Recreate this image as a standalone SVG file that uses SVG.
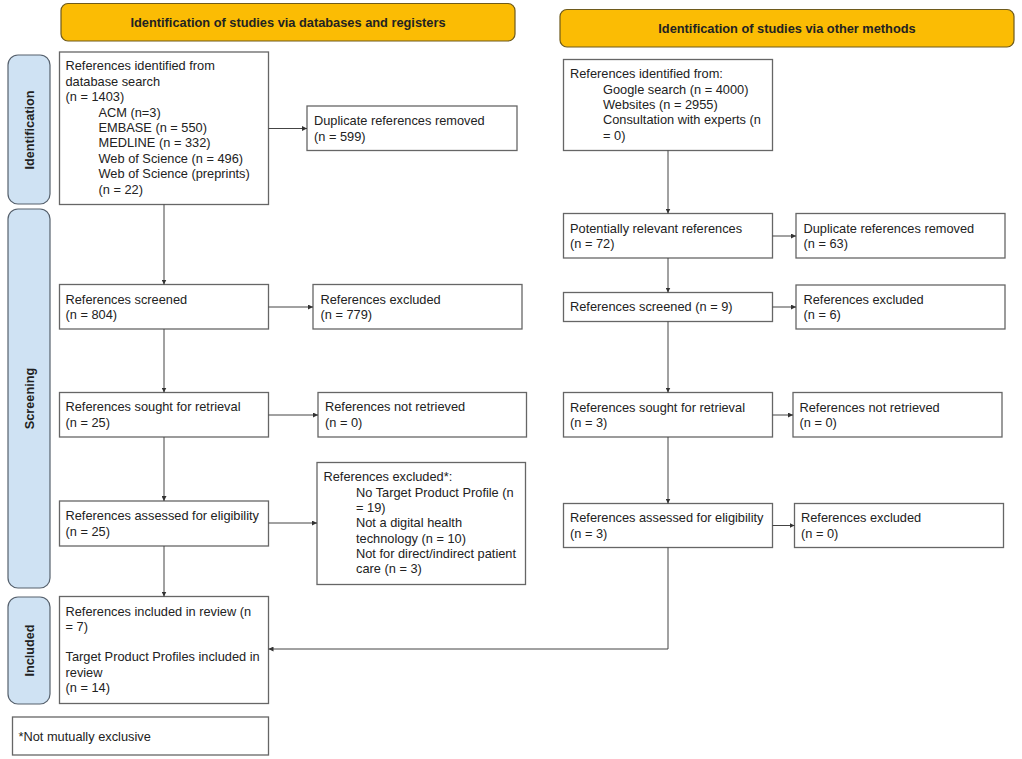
<svg xmlns="http://www.w3.org/2000/svg" width="1022" height="759" viewBox="0 0 1022 759">
<style>
text{font-family:"Liberation Sans",Arial,sans-serif;font-size:12.8px;fill:#222}
.title{font-weight:bold;font-size:12.8px;text-anchor:middle}
.side{font-weight:bold;font-size:12.7px;text-anchor:middle}
.banner{fill:#fbbc04;stroke:#6e5a1c;stroke-width:1.2}
.phase{fill:#cfe2f3;stroke:#56616d;stroke-width:1.2}
.box{fill:#fff;stroke:#666;stroke-width:1.3}
.conn{fill:none;stroke:#444;stroke-width:1}
</style>
<defs>
<marker id="ah" viewBox="0 0 6 6" refX="6" refY="3" markerWidth="5" markerHeight="5" markerUnits="userSpaceOnUse" orient="auto">
<path d="M0,0 L6,3 L0,6 z" fill="#333"/>
</marker>
</defs>
<rect width="1022" height="759" fill="#fff"/>

<g id="banner-left"><rect class="banner" x="61" y="3.5" width="454" height="37.5" rx="7"/><text class="title" x="288" y="27">Identification of studies via databases and registers</text></g>
<g id="banner-right"><rect class="banner" x="560" y="9.5" width="454" height="37.5" rx="7"/><text class="title" x="787" y="32.7">Identification of studies via other methods</text></g>

<g id="phase-identification"><rect class="phase" x="8" y="55" width="42" height="149" rx="10"/><text class="side" transform="translate(34,130) rotate(-90)">Identification</text></g>
<g id="phase-screening"><rect class="phase" x="8" y="209" width="42" height="379" rx="10"/><text class="side" transform="translate(34,398.5) rotate(-90)">Screening</text></g>
<g id="phase-included"><rect class="phase" x="8" y="597" width="42" height="107" rx="10"/><text class="side" transform="translate(34,650.5) rotate(-90)">Included</text></g>

<g id="db-identified"><rect class="box" x="59.5" y="52" width="209" height="152.5"/>
<text x="65.5" y="70">References identified from</text>
<text x="65.5" y="85.5">database search</text>
<text x="65.5" y="101">(n = 1403)</text>
<text x="98.5" y="116.5">ACM (n=3)</text>
<text x="98.5" y="132">EMBASE (n = 550)</text>
<text x="98.5" y="147">MEDLINE (n = 332)</text>
<text x="98.5" y="162.5">Web of Science (n = 496)</text>
<text x="98.5" y="178">Web of Science (preprints)</text>
<text x="98.5" y="193.5">(n = 22)</text></g>

<g id="db-duplicates"><rect class="box" x="307" y="106" width="210" height="44.5"/>
<text x="314" y="124.5">Duplicate references removed</text>
<text x="314" y="141">(n = 599)</text></g>

<g id="db-screened"><rect class="box" x="59.5" y="284.5" width="209" height="44.5"/>
<text x="65.5" y="303.5">References screened</text>
<text x="65.5" y="319">(n = 804)</text></g>

<g id="db-excluded"><rect class="box" x="313" y="284.5" width="209" height="44.5"/>
<text x="320.5" y="303.5">References excluded</text>
<text x="320.5" y="319">(n = 779)</text></g>

<g id="db-sought"><rect class="box" x="59.5" y="392.5" width="209" height="44.5"/>
<text x="65.5" y="411">References sought for retrieval</text>
<text x="65.5" y="426.8">(n = 25)</text></g>

<g id="db-not-retrieved"><rect class="box" x="318" y="392.5" width="208.5" height="44.5"/>
<text x="325" y="411">References not retrieved</text>
<text x="325" y="426.8">(n = 0)</text></g>

<g id="db-assessed"><rect class="box" x="59.5" y="501" width="209" height="45"/>
<text x="65.5" y="520">References assessed for eligibility</text>
<text x="65.5" y="535.5">(n = 25)</text></g>

<g id="db-excluded-elig"><rect class="box" x="317" y="462.5" width="208.5" height="122"/>
<text x="323.5" y="481">References excluded*:</text>
<text x="356" y="496.5">No Target Product Profile (n</text>
<text x="356" y="512">= 19)</text>
<text x="356" y="527">Not a digital health</text>
<text x="356" y="542.5">technology (n = 10)</text>
<text x="356" y="557.5">Not for direct/indirect patient</text>
<text x="356" y="573">care (n = 3)</text></g>

<g id="included"><rect class="box" x="59.5" y="596.5" width="209" height="107"/>
<text x="65.5" y="615.5">References included in review (n</text>
<text x="65.5" y="630.5">= 7)</text>
<text x="65.5" y="661">Target Product Profiles included in</text>
<text x="65.5" y="676.5">review</text>
<text x="65.5" y="692">(n = 14)</text></g>

<g id="footnote"><rect class="box" x="12.5" y="717" width="256" height="38"/>
<text x="18.5" y="741">*Not mutually exclusive</text></g>

<g id="other-identified"><rect class="box" x="563.5" y="59.5" width="209" height="91"/>
<text x="570" y="77.8">References identified from:</text>
<text x="603" y="93.5">Google search (n = 4000)</text>
<text x="603" y="109">Websites (n = 2955)</text>
<text x="603" y="124">Consultation with experts (n</text>
<text x="603" y="139.5">= 0)</text></g>

<g id="other-relevant"><rect class="box" x="563.5" y="213.5" width="209" height="44.5"/>
<text x="570" y="233">Potentially relevant references</text>
<text x="570" y="248">(n = 72)</text></g>

<g id="other-duplicates"><rect class="box" x="796" y="213.5" width="209" height="44.5"/>
<text x="803.5" y="233">Duplicate references removed</text>
<text x="803.5" y="248">(n = 63)</text></g>

<g id="other-screened"><rect class="box" x="563.5" y="292.5" width="209" height="29"/>
<text x="570" y="311">References screened (n = 9)</text></g>

<g id="other-excluded"><rect class="box" x="796" y="285" width="209" height="44"/>
<text x="803.5" y="303.5">References excluded</text>
<text x="803.5" y="319">(n = 6)</text></g>

<g id="other-sought"><rect class="box" x="563.5" y="392.5" width="209" height="44.5"/>
<text x="570" y="411.5">References sought for retrieval</text>
<text x="570" y="427">(n = 3)</text></g>

<g id="other-not-retrieved"><rect class="box" x="793" y="392.5" width="209" height="44.5"/>
<text x="799.5" y="411.5">References not retrieved</text>
<text x="799.5" y="427">(n = 0)</text></g>

<g id="other-assessed"><rect class="box" x="563.5" y="503.5" width="209" height="44"/>
<text x="570" y="522">References assessed for eligibility</text>
<text x="570" y="537.5">(n = 3)</text></g>

<g id="other-excluded-elig"><rect class="box" x="794.5" y="503.5" width="209" height="44"/>
<text x="801" y="522">References excluded</text>
<text x="801" y="537.5">(n = 0)</text></g>

<g id="connectors">
<path class="conn" d="M268.5,128.5 H307" marker-end="url(#ah)"/>
<path class="conn" d="M164,204.5 V284.5" marker-end="url(#ah)"/>
<path class="conn" d="M268.5,307 H313" marker-end="url(#ah)"/>
<path class="conn" d="M164,329 V392.5" marker-end="url(#ah)"/>
<path class="conn" d="M268.5,415 H318" marker-end="url(#ah)"/>
<path class="conn" d="M164,437 V501" marker-end="url(#ah)"/>
<path class="conn" d="M268.5,523 H317" marker-end="url(#ah)"/>
<path class="conn" d="M164,546 V596.5" marker-end="url(#ah)"/>
<path class="conn" d="M668,150.5 V213.5" marker-end="url(#ah)"/>
<path class="conn" d="M772.5,236 H796" marker-end="url(#ah)"/>
<path class="conn" d="M668,258 V292.5" marker-end="url(#ah)"/>
<path class="conn" d="M772.5,307 H796" marker-end="url(#ah)"/>
<path class="conn" d="M668,321.5 V392.5" marker-end="url(#ah)"/>
<path class="conn" d="M772.5,415 H793" marker-end="url(#ah)"/>
<path class="conn" d="M668,437 V503.5" marker-end="url(#ah)"/>
<path class="conn" d="M772.5,525.5 H794.5" marker-end="url(#ah)"/>
<path class="conn" d="M668,547.5 V649 H268.5" marker-end="url(#ah)"/>
</g>
</svg>
